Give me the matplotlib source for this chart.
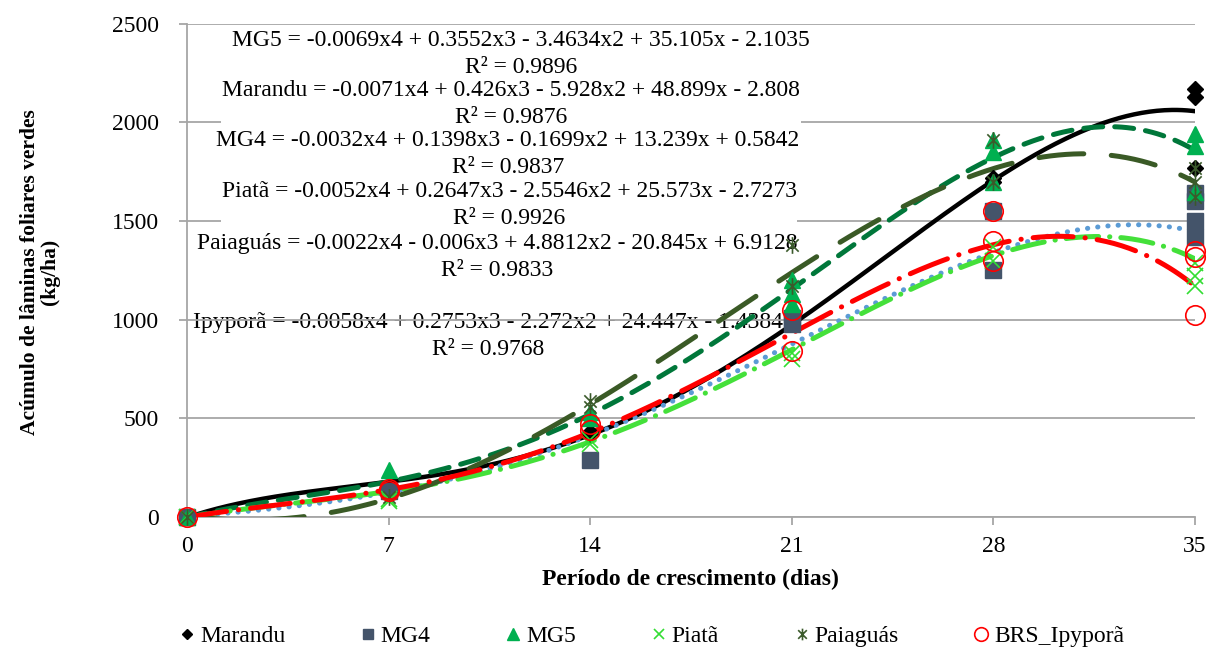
import numpy as np
import matplotlib
matplotlib.use("Agg")
import matplotlib.pyplot as plt
from matplotlib.path import Path
from matplotlib.lines import Line2D

plt.rcParams['font.family'] = ['Liberation Serif', 'DejaVu Serif']

# observed leaf accumulation (kg/ha) per sampling day, replicate values
days = [0, 7, 14, 21, 28, 35]
marandu = [[0], [150, 140], [430, 420], [1020, 980], [1720, 1700], [2170, 2130, 1770]]
mg4 = [[0], [130], [290], [1010, 980], [1550, 1250], [1640, 1600, 1500, 1420]]
mg5 = [[0], [240], [530, 500], [1200, 1130, 1080], [1910, 1850, 1700], [1940, 1880, 1650]]
piata = [[0], [80, 90], [370, 390], [800, 830], [1300, 1370], [1290, 1220, 1170]]
paiaguas = [[0], [100], [590, 560], [1380, 1170], [1910, 1700], [1770, 1700, 1620]]
ipypora = [[0], [130, 140], [470, 440], [1050, 840], [1550, 1400, 1300], [1350, 1320, 1025]]

# 4th order trendline coefficients (x4, x3, x2, x, const) and R2
coef_mg5 = [-0.0069, 0.3552, -3.4634, 35.105, -2.1035]
coef_marandu = [-0.0071, 0.426, -5.928, 48.899, -2.808]
coef_mg4 = [-0.0032, 0.1398, -0.1699, 13.239, 0.5842]
coef_piata = [-0.0052, 0.2647, -2.5546, 25.573, -2.7273]
coef_paiaguas = [-0.0022, -0.006, 4.8812, -20.845, 6.9128]
coef_ipypora = [-0.0058, 0.2753, -2.272, 24.447, -1.4384]
r2 = {"MG5": 0.9896, "Marandu": 0.9876, "MG4": 0.9837,
      "Piatã": 0.9926, "Paiaguás": 0.9833, "Ipyporã": 0.9768}

star = Path([(-1, -1), (1, 1), (-1, 1), (1, -1), (0, -1.35), (0, 1.35)],
            [Path.MOVETO, Path.LINETO, Path.MOVETO, Path.LINETO, Path.MOVETO, Path.LINETO])

series = [
    # name, data, coef, marker kw, line kw
    ("Marandu", marandu, coef_marandu,
     dict(marker='D', ms=8, color='black'),
     dict(color='black', lw=3.2, ls='-')),
    ("MG4", mg4, coef_mg4,
     dict(marker='s', ms=11, color='#44546A'),
     dict(color='#5B9BD5', lw=3.6, ls=(0, (0.05, 2.0)), dash_capstyle='round')),
    ("MG5", mg5, coef_mg5,
     dict(marker='^', ms=12, color='#00B050'),
     dict(color='#00773A', lw=3.6, ls=(0, (3.8, 2.4)), dash_capstyle='round')),
    ("Piatã", piata, coef_piata,
     dict(marker='x', ms=11, color='#33DD33', mew=1.2),
     dict(color='#44E03A', lw=3.6, ls=(0, (6.5, 2.2, 0.05, 2.2)), dash_capstyle='round')),
    ("Paiaguás", paiaguas, coef_paiaguas,
     dict(marker=star, ms=12, color='#3B5A2B', mfc='none', mew=1.2),
     dict(color='#3A5A26', lw=3.6, ls=(0, (9, 5.5)), dash_capstyle='round')),
    ("BRS_Ipyporã", ipypora, coef_ipypora,
     dict(marker='o', ms=14, color='red', mfc='none', mew=1.2),
     dict(color='red', lw=3.6, ls=(0, (8, 2.4, 0.05, 2.4)), dash_capstyle='round')),
]

fig = plt.figure(figsize=(12.1, 6.48), dpi=100)
ax = fig.add_axes([0.1545, 0.2022, 0.833, 0.761])

grey = '#A6A6A6'
ax.set_axisbelow(True)
ax.yaxis.grid(True, color=grey, lw=1.3)
for s in ['top', 'right']:
    ax.spines[s].set_visible(False)
for s in ['left', 'bottom']:
    ax.spines[s].set_color(grey)
    ax.spines[s].set_linewidth(1.3)

xs = np.linspace(0, 35, 400)
handles = []
for name, data, coef, mkw, lkw in series:
    ax.plot(xs, np.polyval(coef, xs), zorder=3, **lkw)
for name, data, coef, mkw, lkw in series:
    px = [d for d, vals in zip(days, data) for _ in vals]
    py = [v for vals in data for v in vals]
    ax.plot(px, py, ls='none', clip_on=False, zorder=4, **mkw)
    hk = dict(mkw)
    hk['ms'] = hk['ms'] * 0.7
    handles.append(Line2D([], [], ls='none', **hk))

ax.set_xlim(0, 35)
ax.set_ylim(0, 2500)
ax.set_xticks(days)
ax.set_yticks([0, 500, 1000, 1500, 2000, 2500])
ax.tick_params(axis='both', direction='out', length=6, width=1.3, color=grey,
               labelsize=17)
ax.tick_params(axis='y', pad=14)
ax.tick_params(axis='x', pad=8)
ax.set_xlabel("Período de crescimento (dias)", fontsize=17, fontweight='bold', labelpad=8)
fig.text(0.033, 1 - 272 / 648, "Acúmulo de lâminas foliares verdes\n(kg/ha)",
         rotation=90, ha='center', va='center', fontsize=15.5, fontweight='bold',
         multialignment='center', linespacing=1.05)


def fmt_eq(name, c):
    parts = [f"{name} = {c[0]:g}x4"]
    for v, t in zip(c[1:], ["x3", "x2", "x", ""]):
        sign = "-" if v < 0 else "+"
        parts.append(f" {sign} {abs(v):g}{t}")
    return "".join(parts)


labels = [
    ("MG5", coef_mg5, 521, 54, True),
    ("Marandu", coef_marandu, 511, 104, True),
    ("MG4", coef_mg4, 508, 154, True),
    ("Piatã", coef_piata, 509, 205, True),
    ("Paiaguás", coef_paiaguas, 497, 257, True),
    ("Ipyporã", coef_ipypora, 488, 336, False),
]
for name, c, px, py, boxed in labels:
    txt = fmt_eq(name, c) + "\nR² = " + f"{r2[name]:.4f}"
    kw = dict(bbox=dict(facecolor='white', edgecolor='none', pad=0.5)) if boxed else {}
    ax.text(px / 1210, 1 - py / 648, txt, transform=fig.transFigure,
            ha='center', va='center', multialignment='center', fontsize=17,
            linespacing=1.4, zorder=2 if boxed else 0.3, **kw)

fig.legend(handles, [s[0] for s in series], loc='center', bbox_to_anchor=(0.537, 0.018),
           ncol=6, frameon=False, fontsize=17, handletextpad=0.05, columnspacing=3.0,
           handlelength=1.0)

fig.savefig("out.png", dpi=100)
